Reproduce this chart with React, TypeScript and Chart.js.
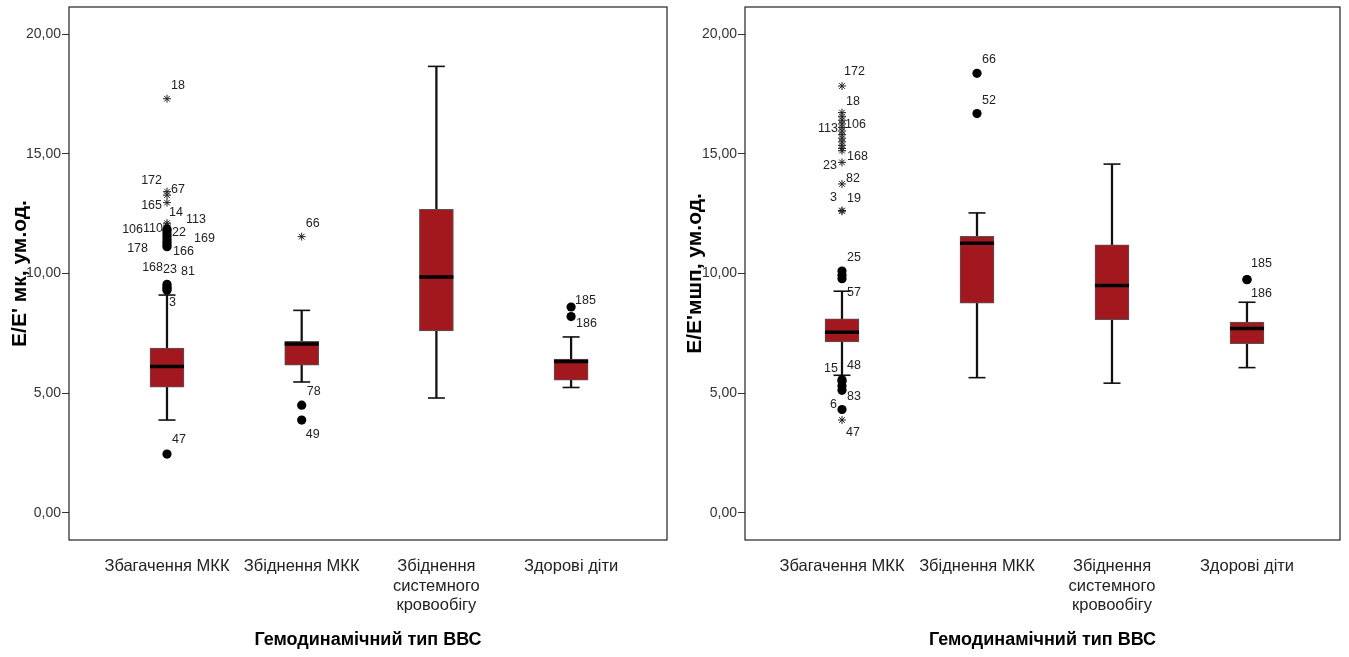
import React, { useEffect, useRef } from "react";
import { Chart, registerables } from "chart.js";

Chart.register(...registerables);
Chart.defaults.font.family = "'Liberation Sans', Arial, sans-serif";

// ---------- shared data ----------
const categoryLabels: string[][] = [
  ["Збагачення МКК"],
  ["Збіднення МКК"],
  ["Збіднення", "системного", "кровообігу"],
  ["Здорові діти"],
];
const yTickValues = [0, 5, 10, 15, 20];
const xAxisTitle = "Гемодинамічний тип ВВС";

type Outlier = [number, number, string]; // [group (1-based), value, case label]

// ---------- left panel: Е/Е' мк ----------
const mkTitle = "Е/Е' мк, ум.од.";
const mkLowWhisker = [3.88, 5.47, 4.8, 5.24];
const mkQ1 = [5.25, 6.17, 7.6, 5.54];
const mkMedian = [6.12, 7.06, 9.85, 6.33];
const mkQ3 = [6.89, 7.17, 12.68, 6.43];
const mkHighWhisker = [9.1, 8.46, 18.65, 7.35];
const mkCircles: Outlier[] = [
  [1, 11.85, "106"], [1, 11.78, "110"], [1, 11.66, "22"], [1, 11.55, "169"],
  [1, 11.42, "178"], [1, 11.3, "166"], [1, 11.2, ""], [1, 11.12, ""],
  [1, 9.55, "168"], [1, 9.45, "23"], [1, 9.38, "81"], [1, 9.3, "3"],
  [1, 2.46, "47"],
  [2, 4.5, "78"], [2, 3.88, "49"],
  [4, 8.6, "185"], [4, 8.2, "186"],
];
const mkStars: Outlier[] = [
  [1, 17.3, "18"], [1, 13.42, "172"], [1, 13.27, "67"], [1, 12.96, "165"],
  [1, 12.1, "14"], [1, 12.02, "113"],
  [2, 11.54, "66"],
];

// ---------- right panel: Е/Е'мшп ----------
const mshpTitle = "Е/Е'мшп, ум.од.";
const mshpLowWhisker = [5.75, 5.65, 5.42, 6.07];
const mshpQ1 = [7.14, 8.76, 8.07, 7.07];
const mshpMedian = [7.55, 11.26, 9.5, 7.7];
const mshpQ3 = [8.11, 11.55, 11.2, 7.97];
const mshpHighWhisker = [9.26, 12.53, 14.57, 8.8];
const mshpCircles: Outlier[] = [
  [1, 10.1, "25"], [1, 9.93, ""], [1, 9.78, "57"],
  [1, 5.56, "15"], [1, 5.5, "48"], [1, 5.3, ""], [1, 5.12, "83"], [1, 4.32, "6"],
  [2, 18.36, "66"], [2, 16.68, "52"],
  [4, 9.75, "185"], [4, 9.74, "186"],
];
const mshpStars: Outlier[] = [
  [1, 17.83, "172"], [1, 16.72, "18"], [1, 16.55, ""], [1, 16.4, ""],
  [1, 16.25, "106"], [1, 16.1, "113"], [1, 15.95, ""], [1, 15.8, ""],
  [1, 15.65, ""], [1, 15.5, ""], [1, 15.35, ""], [1, 15.22, ""],
  [1, 15.13, "168"], [1, 14.64, "23"], [1, 13.74, "82"], [1, 12.63, "3"],
  [1, 12.6, "19"], [1, 3.88, "47"],
];

// ---------- label placement (layout only, px offsets from the point) ----------
type Placement = Record<string, [number, number, CanvasTextAlign]>;
const mkPlacement: Placement = {
  "18": [4, -13, "left"], "172": [-5, -11, "right"], "67": [4, -6, "left"],
  "165": [-5, 3, "right"], "14": [2, -11, "left"], "113": [19, -6, "left"],
  "106": [-24, 0, "right"], "110": [-4, -2, "right"], "22": [5, -1.5, "left"],
  "169": [27, 2, "left"], "178": [-19, 9, "right"], "166": [6, 9, "left"],
  "168": [-4, -16.5, "right"], "23": [-4, -17, "left"], "81": [14, -17, "left"],
  "3": [2, 12.5, "left"], "47": [5, -14, "left"], "66": [4, -13, "left"],
  "78": [5, -14, "left"], "49": [4, 15, "left"], "185": [4, -6.6, "left"],
  "186": [5, 7, "left"],
};
const mshpPlacement: Placement = {
  "172": [2, -14, "left"], "18": [4, -11, "left"], "106": [3, 1, "left"],
  "113": [-4, 0.7, "right"], "168": [5, 6, "left"], "23": [-5, 3, "right"],
  "82": [4, -5.5, "left"], "3": [-5, -12.6, "right"], "19": [5, -13, "left"],
  "47": [4, 13, "left"], "25": [5, -14, "left"], "57": [5, 14, "left"],
  "15": [-4, -11, "right"], "48": [5, -16, "left"], "83": [5, 6, "left"],
  "6": [-5, -5, "right"], "66": [5, -14, "left"], "52": [5, -13, "left"],
  "185": [4, -16, "left"], "186": [4, 14, "left"],
};

interface PanelSpec {
  yTitle: string;
  low: number[]; q1: number[]; median: number[]; q3: number[]; high: number[];
  circles: Outlier[]; stars: Outlier[];
  placement: Placement;
  axisWidth: number; padRight: number; xMin: number; xMax: number;
}

const BOX_RED = "#A3181E";

function zeroPadding(s: any) {
  s.paddingTop = 0;
  s.paddingBottom = 0;
  s.paddingLeft = 0;
  s.paddingRight = 0;
}

function buildConfig(p: PanelSpec): any {
  const idx = categoryLabels.map((_, i) => i + 1);
  const labelPlugin = {
    id: "outlierLabels",
    afterDatasetsDraw(chart: any) {
      const { ctx, scales } = chart;
      const x = scales.x, y = scales.y;
      ctx.save();
      ctx.font = "12.5px 'Liberation Sans', Arial, sans-serif";
      ctx.fillStyle = "#222";
      ctx.textBaseline = "middle";
      [...p.circles, ...p.stars].forEach(([g, v, lab]) => {
        if (!lab) return;
        const pl = p.placement[lab] || [5, -12, "left"];
        ctx.textAlign = pl[2];
        ctx.fillText(lab, x.getPixelForValue(g) + pl[0], y.getPixelForValue(v) + pl[1]);
      });
      ctx.restore();
    },
  };
  const framePlugin = {
    id: "frame",
    afterDraw(chart: any) {
      const { ctx, chartArea: a } = chart;
      ctx.save();
      ctx.strokeStyle = "#222";
      ctx.lineWidth = 1.2;
      ctx.strokeRect(a.left, a.top, a.right - a.left, a.bottom - a.top);
      ctx.restore();
    },
  };
  return {
    type: "bar",
    data: {
      datasets: [
        {
          type: "bar", label: "whisker",
          data: idx.map((g, i) => ({ x: g, y: [p.low[i], p.high[i]] })),
          backgroundColor: "#111", barThickness: 1.6, grouped: false, order: 5,
        },
        {
          type: "bar", label: "box",
          data: idx.map((g, i) => ({ x: g, y: [p.q1[i], p.q3[i]] })),
          backgroundColor: BOX_RED, borderColor: "#555", borderWidth: 1,
          borderSkipped: false, barThickness: 34, grouped: false, order: 4,
        },
        {
          type: "scatter", label: "median",
          data: idx.map((g, i) => ({ x: g, y: p.median[i] })),
          pointStyle: "line", pointRadius: 17, pointBorderColor: "#000",
          pointBorderWidth: 3.5, order: 3,
        },
        {
          type: "scatter", label: "caps",
          data: [
            ...idx.map((g, i) => ({ x: g, y: p.low[i] })),
            ...idx.map((g, i) => ({ x: g, y: p.high[i] })),
          ],
          pointStyle: "line", pointRadius: 8.5, pointBorderColor: "#111",
          pointBorderWidth: 1.6, order: 3,
        },
        {
          type: "scatter", label: "outliers",
          data: p.circles.map(([g, v]) => ({ x: g, y: v })),
          pointStyle: "circle", pointRadius: 4.6, pointBackgroundColor: "#000",
          pointBorderColor: "#000", pointBorderWidth: 0, order: 1,
        },
        {
          type: "scatter", label: "extremes",
          data: p.stars.map(([g, v]) => ({ x: g, y: v })),
          pointStyle: "star", pointRadius: 4, pointBackgroundColor: "transparent",
          pointBorderColor: "#222", pointBorderWidth: 1, order: 1,
        },
      ],
    },
    options: {
      responsive: false,
      animation: false,
      events: [],
      layout: { autoPadding: false, padding: { top: 7, right: p.padRight, left: 0, bottom: 0 } },
      plugins: { legend: { display: false }, tooltip: { enabled: false } },
      scales: {
        x: {
          type: "linear", min: p.xMin, max: p.xMax, offset: false,
          afterBuildTicks: (s: any) => { s.ticks = idx.map((v) => ({ value: v })); },
          afterFit: (s: any) => { s.height = 117; zeroPadding(s); },
          grid: { display: false, drawTicks: false },
          border: { display: false },
          ticks: {
            callback: (v: number) => categoryLabels[Math.round(v) - 1],
            font: { size: 16.5, lineHeight: 1.17 }, color: "#222", padding: 17,
            maxRotation: 0, autoSkip: false,
          },
          title: {
            display: true, text: xAxisTitle, color: "#000",
            font: { size: 18, weight: "bold" }, padding: { top: 0, bottom: 6 },
          },
        },
        y: {
          type: "linear", min: -1.13, max: 21.13,
          afterBuildTicks: (s: any) => { s.ticks = yTickValues.map((v) => ({ value: v })); },
          afterFit: (s: any) => { s.width = p.axisWidth; zeroPadding(s); },
          grid: { drawOnChartArea: false, drawTicks: true, tickLength: 7, color: "#333", lineWidth: 1 },
          border: { display: false },
          ticks: {
            callback: (v: number) => v.toFixed(2).replace(".", ","),
            font: { size: 14 }, color: "#333", padding: 1,
          },
          title: {
            display: true, text: p.yTitle, color: "#000",
            font: { size: 21, weight: "bold" }, padding: { top: 8, bottom: 0 },
          },
        },
      },
    },
    plugins: [labelPlugin, framePlugin],
  };
}

const leftSpec: PanelSpec = {
  yTitle: mkTitle, low: mkLowWhisker, q1: mkQ1, median: mkMedian, q3: mkQ3, high: mkHighWhisker,
  circles: mkCircles, stars: mkStars, placement: mkPlacement,
  axisWidth: 69, padRight: 8, xMin: 0.2725, xMax: 4.712,
};
const rightSpec: PanelSpec = {
  yTitle: mshpTitle, low: mshpLowWhisker, q1: mshpQ1, median: mshpMedian, q3: mshpQ3, high: mshpHighWhisker,
  circles: mshpCircles, stars: mshpStars, placement: mshpPlacement,
  axisWidth: 70, padRight: 9, xMin: 0.2815, xMax: 4.689,
};

function Panel({ spec, left, width }: { spec: PanelSpec; left: number; width: number }) {
  const ref = useRef<HTMLCanvasElement>(null);
  useEffect(() => {
    const chart = new Chart(ref.current as HTMLCanvasElement, buildConfig(spec));
    return () => chart.destroy();
  }, []);
  return (
    <canvas
      ref={ref}
      width={width}
      height={657}
      style={{ position: "absolute", left, top: 0, width, height: 657 }}
    />
  );
}

export default function App() {
  return (
    <div style={{ position: "fixed", left: 0, top: 0, width: 1349, height: 657, background: "#fff" }}>
      <Panel spec={leftSpec} left={0} width={675} />
      <Panel spec={rightSpec} left={675} width={674} />
    </div>
  );
}
